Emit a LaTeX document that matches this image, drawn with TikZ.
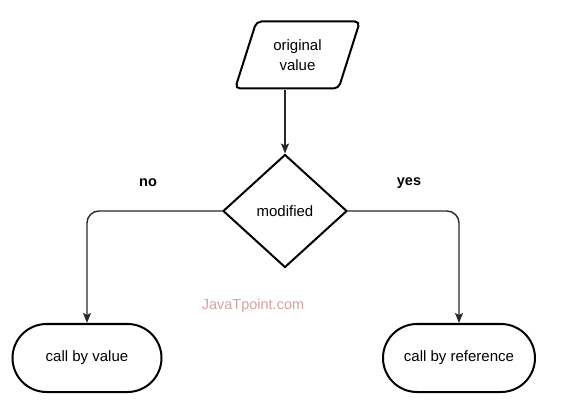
\documentclass[tikz,border=0pt]{standalone}
\usepackage{fontspec}
\setmainfont{Liberation Sans}
\usetikzlibrary{shapes.geometric,shapes.misc,arrows.meta}
\begin{document}
\begin{tikzpicture}[x=1pt,y=-1pt,
  shapeline/.style={draw=black,line width=2pt},
  lbl/.style={font=\fontsize{15}{20}\selectfont},
  conn/.style={draw={rgb,255:red,40;green,40;blue,40},line width=1.4pt,
    -{Stealth[length=10pt,width=8pt,inset=2pt]}},
  ]
\useasboundingbox (0,0) rectangle (568,414);
\node[shapeline,lbl,trapezium,trapezium left angle=68,trapezium right angle=112,
  trapezium stretches=true,minimum width=125pt,minimum height=67pt,inner sep=0pt,
  rounded corners=5pt,align=center] (orig) at (297.5,55) {original\\value};
\node[shapeline,lbl,diamond,minimum width=124pt,minimum height=113pt,inner sep=0pt]
  (dia) at (285,211) {modified};
\node[shapeline,lbl,rounded rectangle,minimum width=149pt,minimum height=68pt,inner sep=0pt]
  (cv) at (87,358) {call by value};
\node[shapeline,lbl,rounded rectangle,minimum width=152pt,minimum height=68pt,inner sep=0pt]
  (cr) at (459,358) {call by reference};
\draw[conn] (orig.south -| dia.north) -- (dia.north);
\draw[conn,rounded corners=12pt] (dia.west) -| (cv.north);
\draw[conn,rounded corners=12pt] (dia.east) -| (cr.north);
\node[font=\fontsize{14.5}{16}\selectfont\bfseries] (no) at (148,183) {no};
\node[font=\fontsize{14.5}{16}\selectfont\bfseries] (yes) at (409,183) {yes};
\node[font=\fontsize{14.5}{16}\selectfont,text={rgb,255:red,215;green,160;blue,160}] (wm) at (253,306) {JavaTpoint.com};
\end{tikzpicture}
\end{document}
